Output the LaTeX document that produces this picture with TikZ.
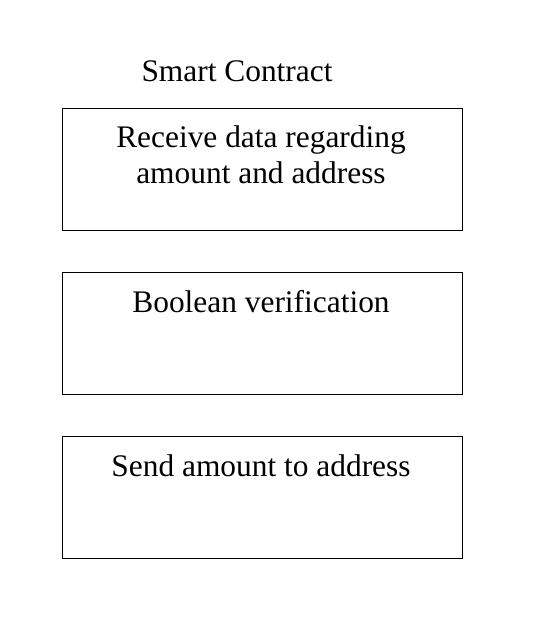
\documentclass[tikz,border=0pt]{standalone}
\usepackage{fontspec}
\setmainfont{Liberation Serif}
\begin{document}
\begin{tikzpicture}[x=1pt,y=-1pt,
  stepbox/.style={draw=black,line width=1pt,minimum width=400pt,minimum height=122pt,inner sep=0pt,anchor=north west},
  label/.style={anchor=base,inner sep=0pt,font=\fontsize{31.4}{35.6}\selectfont}]
\useasboundingbox (0,0) rectangle (554,630);
\node[label] (title) at (237,81.7) {Smart Contract};
\node[stepbox] (b1) at (62,108.3) {};
\node[stepbox] (b2) at (62,272.3) {};
\node[stepbox] (b3) at (62,436.3) {};
\node[label] (t1a) at (261,147.7) {Receive data regarding};
\node[label] (t1b) at (261,183.3) {amount and address};
\node[label] (t2) at (261,312.3) {Boolean verification};
\node[label] (t3) at (261,476.3) {Send amount to address};
\end{tikzpicture}
\end{document}
